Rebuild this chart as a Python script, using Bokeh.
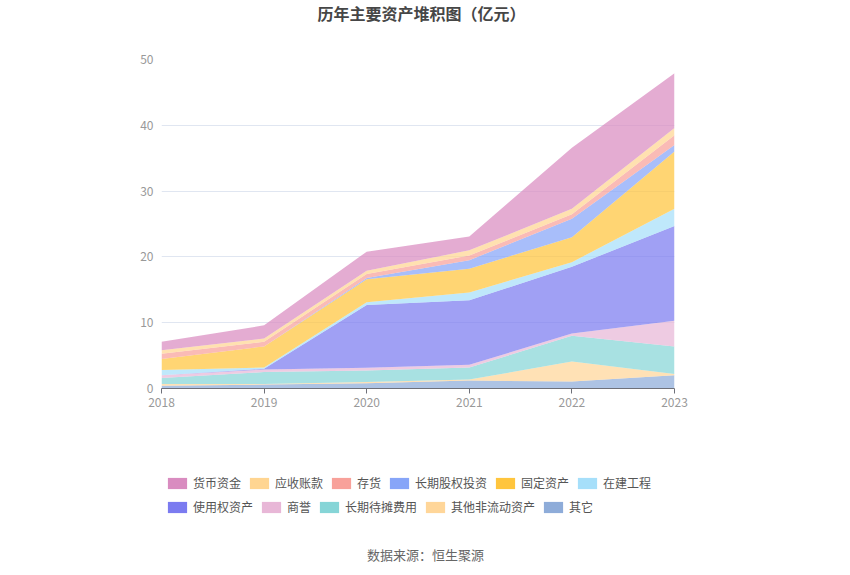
from bokeh.plotting import figure
from bokeh.layouts import column
from bokeh.models import (ColumnDataSource, Range1d, Legend, LegendItem, Label,
                          FixedTicker)
from bokeh.embed import file_html
from bokeh.resources import INLINE

# ---- data (亿元) ----
years = [2018, 2019, 2020, 2021, 2022, 2023]
cash = [1.3, 2.0, 2.9, 2.1, 9.3, 8.3]            # 货币资金
receivables = [0.5, 0.5, 0.5, 0.8, 0.8, 1.1]     # 应收账款
inventory = [0.8, 0.7, 0.6, 0.7, 0.7, 1.5]       # 存货
lt_equity = [0.0, 0.0, 0.2, 1.3, 2.8, 1.0]       # 长期股权投资
fixed_assets = [1.7, 3.2, 3.5, 3.6, 3.8, 8.7]    # 固定资产
construction = [0.8, 0.2, 0.4, 1.2, 0.7, 2.6]    # 在建工程
rou_assets = [0.0, 0.1, 9.55, 9.8, 10.15, 14.4]  # 使用权资产
goodwill = [0.4, 0.4, 0.4, 0.4, 0.35, 3.9]       # 商誉
lt_prepaid = [0.9, 1.8, 1.75, 1.85, 3.9, 4.2]    # 长期待摊费用
other_nca = [0.3, 0.1, 0.2, 0.15, 3.05, 0.2]     # 其他非流动资产
others = [0.4, 0.6, 0.8, 1.2, 1.05, 2.0]         # 其它

y_ticks = [0, 10, 20, 30, 40, 50]

# legend order (top of stack first)
series = [
    ("货币资金", "cash", cash, "#D98CC0"),
    ("应收账款", "receivables", receivables, "#FFD591"),
    ("存货", "inventory", inventory, "#F8A19A"),
    ("长期股权投资", "lt_equity", lt_equity, "#87A5F8"),
    ("固定资产", "fixed_assets", fixed_assets, "#FFC53D"),
    ("在建工程", "construction", construction, "#A6DFFA"),
    ("使用权资产", "rou_assets", rou_assets, "#7B7BF0"),
    ("商誉", "goodwill", goodwill, "#E8B7D7"),
    ("长期待摊费用", "lt_prepaid", lt_prepaid, "#86D5D7"),
    ("其他非流动资产", "other_nca", other_nca, "#FFD699"),
    ("其它", "others", others, "#8EACD9"),
]

data = {"year": years}
for _, key, vals, _ in series:
    data[key] = vals
source = ColumnDataSource(data)

FONT = "Noto Sans CJK SC"
W = 850
FL, FR = 161, 674  # frame left/right in page pixels (column aligns frames)

stack_order = list(reversed(series))  # bottom first
stackers = [s[1] for s in stack_order]
colors = [s[3] for s in stack_order]


def blank_fig(h):
    f = figure(width=W, height=h, output_backend="svg", toolbar_location=None,
               x_range=Range1d(FL, FR), y_range=Range1d(0, h),
               x_axis_type=None, y_axis_type=None,
               min_border_left=FL, min_border_right=W - FR,
               min_border_top=0, min_border_bottom=0)
    f.outline_line_color = None
    f.xgrid.visible = False
    f.ygrid.visible = False
    return f


# ---- title strip ----
TH = 30
tfig = blank_fig(TH)
tfig.add_layout(Label(x=421, y=TH - 12, text="历年主要资产堆积图（亿元）",
                      text_align="center", text_baseline="middle",
                      text_font=FONT, text_font_size="16px",
                      text_font_style="bold", text_color="#464646"))

# ---- main chart ----
MH = 400
p = figure(width=W, height=MH, output_backend="svg", toolbar_location=None,
           x_range=Range1d(2018, 2023), y_range=Range1d(0, 50),
           min_border_left=FL, min_border_right=W - FR,
           min_border_top=59 - TH, min_border_bottom=MH - (388 - TH))
p.outline_line_color = None

p.varea_stack(stackers=stackers, x="year", source=source, color=colors,
              fill_alpha=0.72)

p.xaxis.ticker = FixedTicker(ticks=years)
p.xaxis.formatter.use_scientific = False
p.xaxis.axis_line_color = "#6E7079"
p.xaxis.major_tick_line_color = "#6E7079"
p.xaxis.major_tick_in = 0
p.xaxis.major_tick_out = 5
p.xaxis.minor_tick_line_color = None
p.xaxis.major_label_text_color = "#999999"
p.xaxis.major_label_text_font = FONT
p.xaxis.major_label_text_font_size = "12px"
p.xaxis.major_label_standoff = 4

p.yaxis.ticker = FixedTicker(ticks=y_ticks)
p.yaxis.axis_line_color = None
p.yaxis.major_tick_line_color = None
p.yaxis.minor_tick_line_color = None
p.yaxis.major_label_text_color = "#999999"
p.yaxis.major_label_text_font = FONT
p.yaxis.major_label_text_font_size = "12px"
p.yaxis.major_label_standoff = 2

p.xgrid.grid_line_color = None
p.ygrid.grid_line_color = "#E0E6F1"
p.ygrid.ticker = FixedTicker(ticks=y_ticks)

# ---- legend + source strip ----
LH = 575 - TH - MH
top0 = TH + MH  # page y of this strip's top
lfig = blank_fig(LH)
# same stack, solid colours; it lies outside this strip's x range (only the
# legend swatches show)
leg_rs = lfig.varea_stack(stackers=stackers, x="year", source=source,
                          color=colors, fill_alpha=1.0)
swatch = {s[0]: r for s, r in zip(stack_order, leg_rs)}


def make_legend(names, bottom_page_y):
    items = [LegendItem(label=n, renderers=[swatch[n]]) for n in names]
    return Legend(items=items, location=(165 - FL, LH - (bottom_page_y - top0)),
                  orientation="horizontal",
                  glyph_width=24, glyph_height=14, label_height=14,
                  label_standoff=4, spacing=6, padding=0, margin=0,
                  border_line_color=None, background_fill_alpha=0,
                  label_text_font=FONT, label_text_font_size="12px",
                  label_text_color="#555555")


lfig.add_layout(make_legend(["货币资金", "应收账款", "存货", "长期股权投资",
                             "固定资产", "在建工程"], 491))
lfig.add_layout(make_legend(["使用权资产", "商誉", "长期待摊费用",
                             "其他非流动资产", "其它"], 515))
lfig.add_layout(Label(x=425, y=LH - (554 - top0), text="数据来源：恒生聚源",
                      text_align="center", text_baseline="middle",
                      text_font=FONT, text_font_size="13px",
                      text_color="#666666"))

layout = column(tfig, p, lfig, spacing=0)
open("out.html", "w").write(file_html(layout, INLINE))
